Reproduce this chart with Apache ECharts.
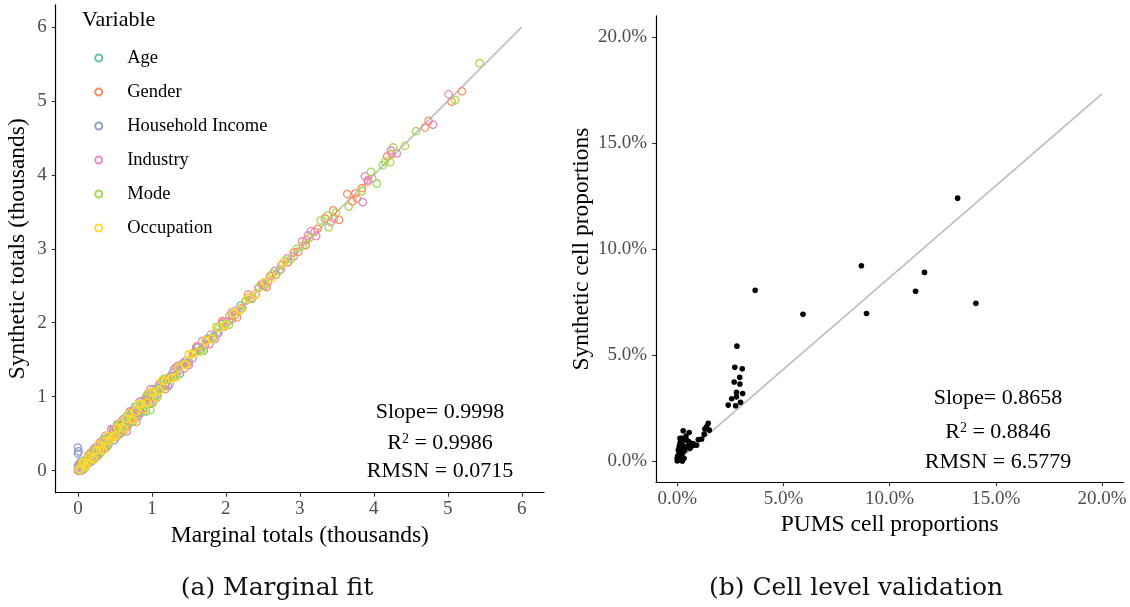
<!DOCTYPE html>
<html>
<head>
<meta charset="utf-8">
<script src="https://cdn.jsdelivr.net/npm/echarts@6/dist/echarts.min.js"></script>
<style>
  html, body { margin: 0; padding: 0; background: #ffffff; }
  #chart { width: 1130px; height: 607px; }
</style>
</head>
<body>
<div id="chart"></div>
<script>
// ---- Panel (a): marginal totals vs synthetic totals, in thousands ----
const variableNames = ['Age', 'Gender', 'Household Income', 'Industry', 'Mode', 'Occupation'];
const variableColors = ['#66C2A5', '#FC8D62', '#8DA0CB', '#E78AC3', '#A6D854', '#FFD92F'];

const agePoints = [
  [0.05,0.07],[0.08,0.10],[0.12,0.15],[0.15,0.13],[0.18,0.22],[0.21,0.24],[0.24,0.22],[0.27,0.30],
  [0.30,0.33],[0.33,0.31],[0.36,0.40],[0.38,0.43],[0.41,0.39],[0.44,0.47],[0.47,0.50],[0.50,0.46],
  [0.52,0.56],[0.55,0.58],[0.58,0.55],[0.61,0.64],[0.63,0.66],[0.66,0.62],[0.69,0.72],[0.72,0.74],
  [0.75,0.70],[0.78,0.81],[0.81,0.78],[0.84,0.80],[0.88,0.85],[0.92,0.80],[0.95,0.98],[0.99,1.02],
  [1.04,1.00],[1.10,1.12],[1.18,1.15],[1.25,1.27],[1.33,1.30],[1.42,1.45],[1.50,1.47],[1.58,1.60],
  [1.66,1.63],[1.75,1.78],[1.84,1.82],[1.95,1.98],[2.08,2.05],[2.20,2.23],[2.35,2.32],[2.50,2.53],
  [0.10,0.05],[0.14,0.20],[0.20,0.15],[0.25,0.32],[0.29,0.22],[0.34,0.42],[0.40,0.33],[0.45,0.55],
  [0.49,0.41],[0.53,0.62],[0.57,0.50],[0.62,0.70],[0.67,0.60],[0.70,0.78],[0.74,0.66],[0.77,0.86],
  [0.82,0.74],[0.86,0.94],[0.90,0.84],[0.93,1.01],[0.97,0.90],[1.02,1.10],[1.07,0.99],[1.14,1.20],
  [1.22,1.14],[1.30,1.37],[1.38,1.31],[1.60,1.67],[1.70,1.62],[1.90,1.86]
];
const genderPoints = [
  [0.02,0.03],[0.06,0.05],[0.10,0.12],[0.14,0.11],[0.19,0.20],[0.23,0.26],[0.28,0.25],[0.34,0.36],
  [0.40,0.42],[0.45,0.43],[0.52,0.55],[0.58,0.56],[0.64,0.60],[0.70,0.73],[0.76,0.72],[0.79,0.66],
  [0.82,0.84],[0.90,0.93],[0.97,0.95],[1.05,1.08],[1.14,1.12],[1.22,1.25],[1.30,1.28],[1.40,1.43],
  [1.48,1.45],[1.57,1.60],[1.65,1.62],[1.74,1.77],[1.82,1.79],[1.90,1.93],[1.98,1.95],[2.05,2.09],
  [2.12,2.10],[2.20,2.18],[2.27,2.30],[2.35,2.33],[2.44,2.47],[2.52,2.50],[2.60,2.63],[2.68,2.65],
  [2.75,2.78],[2.84,2.82],[2.92,2.95],[2.98,2.96],[3.08,3.05],[3.09,3.12],[3.20,3.23],[3.24,3.27],
  [3.34,3.41],[3.46,3.41],[3.45,3.52],[3.53,3.39],[3.64,3.74],[3.71,3.64],[3.75,3.75],[3.77,3.68],
  [3.84,3.82],[3.92,3.91],[4.18,4.25],[4.24,4.28],[4.69,4.64],[4.74,4.73],[5.05,4.99],[5.19,5.13],
  [0.04,0.09],[0.08,0.03],[0.17,0.24],[0.26,0.19],[0.31,0.38],[0.37,0.30],[0.48,0.55],[0.55,0.49],
  [0.61,0.69],[0.67,0.62],[0.73,0.80],[0.85,0.78],[0.93,1.00],[1.00,0.93],[1.10,1.17],[1.18,1.10],
  [1.35,1.41],[1.44,1.38],[1.61,1.68],[1.78,1.71],[1.95,2.02],[2.15,2.07],[2.30,2.38],[2.55,2.48]
];
const incomePoints = [
  [0.00,0.02],[0.01,0.00],[0.02,0.05],[0.03,0.01],[0.04,0.08],[0.05,0.03],[0.06,0.10],[0.07,0.05],
  [0.08,0.12],[0.09,0.07],[0.10,0.14],[0.11,0.09],[0.12,0.16],[0.13,0.11],[0.14,0.18],[0.15,0.13],
  [0.17,0.20],[0.19,0.16],[0.21,0.24],[0.23,0.20],[0.26,0.27],[0.29,0.31],[0.32,0.30],[0.35,0.37],
  [0.00,0.31],[0.01,0.26],[0.00,0.23],[0.02,0.00],[0.00,0.06],[0.04,0.02],
  [0.01,0.04],[0.03,0.07],[0.05,0.00],[0.06,0.04],[0.08,0.02],[0.10,0.06],[0.12,0.08],[0.14,0.10],
  [0.16,0.17],[0.18,0.12],[0.20,0.21],[0.22,0.17],[0.24,0.26],[0.02,0.09],[0.04,0.12]
];
const industryPoints = [
  [0.00,0.00],[0.03,0.06],[0.07,0.04],[0.10,0.13],[0.13,0.17],[0.16,0.14],[0.20,0.23],[0.24,0.28],
  [0.27,0.24],[0.31,0.35],[0.35,0.33],[0.39,0.44],[0.43,0.41],[0.47,0.52],[0.50,0.48],[0.55,0.60],
  [0.60,0.58],[0.66,0.53],[0.68,0.72],[0.74,0.78],[0.80,0.76],[0.86,0.90],[0.93,0.96],[0.98,1.10],
  [1.02,0.99],[1.10,1.14],[1.19,1.17],[1.28,1.32],[1.36,1.34],[1.45,1.48],[1.55,1.52],[1.63,1.67],
  [1.72,1.70],[1.80,1.84],[1.88,1.86],[1.96,2.00],[2.04,2.02],[2.13,2.16],[2.22,2.20],[2.31,2.34],
  [2.40,2.38],[2.48,2.52],[2.57,2.55],[2.66,2.70],[2.74,2.72],[2.83,2.87],[2.92,2.90],[3.03,3.10],
  [3.11,3.18],[3.15,3.24],[3.22,3.17],[3.42,3.36],[3.85,3.63],[3.88,3.98],[3.92,3.93],[3.98,3.95],
  [4.23,4.33],[4.31,4.29],[4.80,4.68],[5.01,5.09],
  [0.01,0.04],[0.02,0.01],[0.05,0.10],[0.08,0.07],[0.11,0.08],[0.14,0.21],[0.18,0.13],[0.22,0.30],
  [0.26,0.20],[0.29,0.37],[0.33,0.27],[0.37,0.47],[0.41,0.35],[0.45,0.56],[0.52,0.45],[0.57,0.65],
  [0.63,0.55],[0.70,0.80],[0.77,0.70],[0.83,0.93],[0.89,0.82],[0.95,1.04],[1.06,0.98],[1.15,1.22],
  [1.24,1.17],[1.33,1.40],[1.50,1.43],[1.68,1.75],[1.85,1.78],[2.08,2.14]
];
const modePoints = [
  [0.02,0.01],[0.05,0.07],[0.09,0.06],[0.13,0.15],[0.17,0.14],[0.22,0.24],[0.26,0.23],[0.31,0.33],
  [0.37,0.35],[0.43,0.46],[0.49,0.47],[0.56,0.59],[0.63,0.61],[0.70,0.73],[0.77,0.75],[0.84,0.87],
  [0.91,0.89],[0.98,0.82],[1.01,0.91],[1.05,1.08],[1.12,1.10],[1.20,1.23],[1.28,1.26],[1.37,1.40],
  [1.46,1.44],[1.55,1.58],[1.64,1.62],[1.73,1.76],[1.82,1.80],[1.91,1.94],[2.00,1.98],[2.09,2.12],
  [2.18,2.16],[2.27,2.30],[2.36,2.34],[2.45,2.48],[2.54,2.52],[2.63,2.66],[2.72,2.70],[2.80,2.84],
  [2.88,2.86],[2.96,3.00],[3.04,3.04],[3.13,3.15],[3.28,3.38],[3.37,3.45],[3.39,3.29],[3.49,3.49],
  [3.66,3.57],[3.84,3.78],[3.96,4.04],[4.04,3.88],[4.12,4.13],[4.15,4.18],[4.22,4.17],[4.26,4.37],
  [4.42,4.39],[4.57,4.59],[5.10,5.01],[5.43,5.51],
  [0.07,0.12],[0.11,0.05],[0.20,0.27],[0.29,0.22],[0.34,0.41],[0.40,0.33],[0.53,0.60],[0.60,0.52],
  [0.66,0.74],[0.74,0.67],[0.80,0.88],[0.88,0.80],[0.95,1.03],[1.08,1.01],[1.16,1.24],[1.33,1.27],
  [1.50,1.57],[1.69,1.62],[1.87,1.94],[2.04,1.97]
];
const occupationPoints = [
  [0.01,0.02],[0.04,0.01],[0.08,0.10],[0.12,0.09],[0.16,0.18],[0.20,0.17],[0.25,0.27],[0.30,0.28],
  [0.32,0.33],[0.36,0.39],[0.42,0.40],[0.48,0.45],[0.54,0.57],[0.60,0.58],[0.66,0.70],[0.72,0.69],
  [0.78,0.80],[0.86,0.90],[0.94,0.92],[1.02,1.05],[1.10,1.08],[1.18,1.21],[1.27,1.25],[1.36,1.39],
  [1.45,1.43],[1.54,1.57],[1.63,1.60],[1.72,1.75],[1.81,1.78],[1.90,1.93],[2.00,1.97],[2.10,2.13],
  [2.20,2.18],[2.30,2.33],[2.41,2.38],[2.52,2.55],[2.63,2.61],[2.77,2.81],
  [0.06,0.11],[0.10,0.05],[0.14,0.20],[0.22,0.15],[0.28,0.35],[0.34,0.27],[0.40,0.47],[0.45,0.44],
  [0.51,0.47],[0.57,0.64],[0.63,0.56],[0.69,0.77],[0.75,0.68],[0.82,0.90],[0.90,0.83],[0.98,1.06],
  [1.06,0.99],[1.14,1.22],[1.32,1.26],[1.50,1.57]
];
const marginalTicks = [0, 1, 2, 3, 4, 5, 6];
const marginalSlope = 0.9998;
const marginalR2 = '0.9986';
const marginalRmsn = '0.0715';

// ---- Panel (b): PUMS vs synthetic cell proportions, in percent ----
const cellPoints = [
  [13.2,12.4],[8.67,9.21],[11.64,8.90],[11.22,8.01],[14.06,7.44],[8.91,6.96],[5.92,6.92],[3.67,8.06],
  [2.81,5.42],[2.71,4.42],[3.06,4.35],[2.94,3.95],[2.68,3.73],[2.95,3.63],[2.79,3.24],[3.08,3.19],
  [2.56,2.94],[2.79,3.03],[2.40,2.64],[2.75,2.61],[2.98,2.77],
  [1.46,1.78],[1.38,1.62],[1.30,1.51],[1.51,1.46],[1.27,1.27],[1.15,1.04],[0.99,1.02],[0.80,0.75],
  [0.68,0.71],[0.60,0.60],[0.44,0.68],[0.56,0.91],[0.56,1.35],[0.41,1.18],[0.28,1.43],[0.21,1.07],
  [0.33,0.99],[0.13,0.83],[0.25,0.75],[0.36,0.52],[0.16,0.60],[0.09,0.36],[0.21,0.28],[0.05,0.13],
  [0.00,0.01],[0.13,0.05],[0.28,0.44],[0.02,0.24],[0.24,0.00],[0.75,0.83],[0.91,0.75],[0.52,0.75],
  [0.13,1.07],[0.21,0.57],[0.44,0.99],[0.05,0.52],[0.09,0.68],[0.00,0.13],[0.32,0.13],[0.10,0.20],
  [0.18,0.40],[0.07,0.05],[0.15,0.90],[0.30,0.62]
];
const cellTicks = [0, 5, 10, 15, 20];
const cellSlope = 0.8658;
const cellR2 = '0.8846';
const cellRmsn = '6.5779';

const serif = "'Liberation Serif', 'Times New Roman', serif";
const tickGrey = '#4D4D4D';

function axisBase(min, max, ticks, name, nameGap, fmt, labelMargin) {
  return {
    type: 'value', min: min, max: max,
    name: name, nameLocation: 'middle', nameGap: nameGap,
    nameTextStyle: { fontFamily: serif, fontSize: 23.5, color: '#000' },
    axisLine: { show: true, onZero: false, lineStyle: { color: '#000', width: 1.2 } },
    axisTick: { show: true, inside: false, length: 4, customValues: ticks, lineStyle: { color: '#333', width: 1.1 } },
    axisLabel: { show: true, customValues: ticks, margin: labelMargin, formatter: fmt,
      fontFamily: serif, fontSize: 19, color: tickGrey },
    splitLine: { show: false }
  };
}
const pct = v => v.toFixed(1) + '%';
const plain = v => String(v);

const variableData = [agePoints, genderPoints, incomePoints, industryPoints, modePoints, occupationPoints];

const series = [];
// 45-degree reference line for panel (a)
const marginalMaxX = marginalTicks[marginalTicks.length - 1];
series.push({
  type: 'line', xAxisIndex: 0, yAxisIndex: 0, silent: true, symbol: 'none', z: 1,
  data: [[0, 0], [marginalMaxX, marginalMaxX * marginalSlope]],
  lineStyle: { color: '#BEBEBE', width: 1.7 }
});
variableNames.forEach((name, i) => {
  series.push({
    name: name, type: 'scatter', xAxisIndex: 0, yAxisIndex: 0, z: 2,
    symbol: 'circle', symbolSize: 7.4,
    itemStyle: { color: 'rgba(255,255,255,0)', borderColor: variableColors[i], borderWidth: 1.3, opacity: 1 },
    data: variableData[i]
  });
});
// fitted line for panel (b)
const cellMaxX = cellTicks[cellTicks.length - 1];
series.push({
  type: 'line', xAxisIndex: 1, yAxisIndex: 1, silent: true, symbol: 'none', z: 1,
  data: [[0, 0], [cellMaxX, cellMaxX * cellSlope]],
  lineStyle: { color: '#BEBEBE', width: 1.7 }
});
series.push({
  name: 'cells', type: 'scatter', xAxisIndex: 1, yAxisIndex: 1, z: 2,
  symbol: 'circle', symbolSize: 5.6,
  itemStyle: { color: '#000', opacity: 1 },
  data: cellPoints
});

function statsBlock(cx, ys, slope, r2, rmsn) {
  const base = { fontFamily: serif, fontSize: 22, fill: '#000', textAlign: 'center', textVerticalAlign: 'middle' };
  return [
    { type: 'text', x: cx, y: ys[0], style: Object.assign({ text: 'Slope= ' + slope }, base) },
    { type: 'text', x: cx, y: ys[1], style: Object.assign({
        text: 'R{sup|2} = ' + r2,
        rich: { sup: { fontFamily: serif, fontSize: 14, verticalAlign: 'top', fill: '#000' } }
      }, base) },
    { type: 'text', x: cx, y: ys[2], style: Object.assign({ text: 'RMSN = ' + rmsn }, base) }
  ];
}

const option = {
  backgroundColor: '#ffffff',
  animation: false,
  grid: [
    { left: 55.7, top: 4.8, width: 488.3, height: 487.9, outerBoundsMode: 'none', containLabel: false },
    { left: 656, top: 15.8, width: 467.3, height: 466.5, outerBoundsMode: 'none', containLabel: false }
  ],
  xAxis: [
    Object.assign(axisBase(-0.3, 6.3, marginalTicks, 'Marginal totals (thousands)', 30, plain, 7), { gridIndex: 0 }),
    Object.assign(axisBase(-1, 21, cellTicks, 'PUMS cell proportions', 29, pct, 7), { gridIndex: 1 })
  ],
  yAxis: [
    Object.assign(axisBase(-0.3, 6.3, marginalTicks, 'Synthetic totals (thousands)', 26, plain, 9), { gridIndex: 0 }),
    Object.assign(axisBase(-1, 21, cellTicks, 'Synthetic cell proportions', 54, pct, 9), { gridIndex: 1 })
  ],
  legend: {
    data: variableNames.map(n => ({ name: n, icon: 'circle' })),
    orient: 'vertical', left: 94.2, top: 48, padding: 0,
    itemWidth: 7, itemHeight: 7, itemGap: 14,
    selectedMode: false,
    textStyle: { fontFamily: serif, fontSize: 18.5, color: '#000', lineHeight: 20, padding: [0, 0, 0, 20] }
  },
  series: series,
  graphic: [
    { type: 'text', x: 82, y: 20, style: { text: 'Variable', fontFamily: serif, fontSize: 22, fill: '#000', textAlign: 'left', textVerticalAlign: 'middle' } }
  ].concat(
    statsBlock(440, [412, 443, 471], marginalSlope, marginalR2, marginalRmsn),
    statsBlock(998, [398, 432, 462], cellSlope, cellR2, cellRmsn),
    [
      { type: 'text', x: 277, y: 588, style: { text: '(a) Marginal fit', fontFamily: "'DejaVu Serif', serif", fontSize: 25, fill: '#111', textAlign: 'center', textVerticalAlign: 'middle' } },
      { type: 'text', x: 856, y: 588, style: { text: '(b) Cell level validation', fontFamily: "'DejaVu Serif', serif", fontSize: 25, fill: '#111', textAlign: 'center', textVerticalAlign: 'middle' } }
    ]
  )
};

const chart = echarts.init(document.getElementById('chart'), null, { renderer: 'canvas' });
chart.setOption(option);
</script>
</body>
</html>
